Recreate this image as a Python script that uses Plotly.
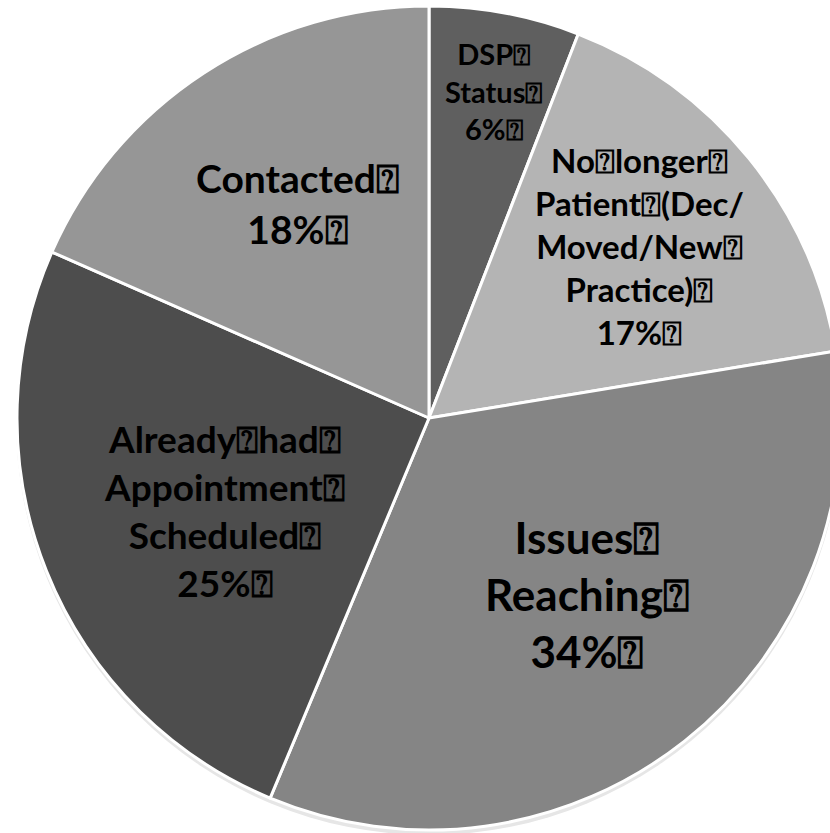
import math
import plotly.graph_objects as go

# ---- data ----
labels = ["DSP⍰<br>Status⍰", "No⍰longer⍰<br>Patient⍰(Dec/<br>Moved/New⍰<br>Practice)⍰",
          "Issues⍰<br>Reaching⍰", "Already⍰had⍰<br>Appointment⍰<br>Scheduled⍰", "Contacted⍰"]
values = [5.9, 16.5, 33.9, 25.3, 18.4]
pct_labels = [6, 17, 34, 25, 18]

# ---- style ----
colors = ["#5f5f5f", "#b4b4b4", "#858585", "#4d4d4d", "#969696"]
font_sizes = [29, 33, 44, 37, 39]
radial_frac = [0.81, 0.66, 0.575, 0.546, 0.61]
angle_shift = [0.6, -0.3, -3.5, -2.6, 1.7]

W, H = 858, 833
top_px, bot_px = 6, 830
R = (bot_px - top_px) / 2
cx, cy = W / 2, top_px + R

fig = go.Figure(go.Pie(
    labels=labels, values=values, sort=False, direction="clockwise", rotation=0,
    marker=dict(colors=colors, line=dict(color="white", width=3)),
    textinfo="none", hoverinfo="label+percent", showlegend=False,
    domain=dict(x=[0, 1], y=[(H - bot_px) / H, 1 - top_px / H]),
))

total = sum(values)
cum = 0
annotations = []
for i, v in enumerate(values):
    mid = (cum + v / 2) / total * 360 + angle_shift[i]
    cum += v
    r = R * radial_frac[i]
    x = cx + r * math.sin(math.radians(mid))
    y = cy - r * math.cos(math.radians(mid))
    annotations.append(dict(
        x=x / W, y=1 - y / H, xref="paper", yref="paper", showarrow=False,
        text=f"<b>{labels[i]}<br>{pct_labels[i]}%⍰</b>", align="center",
        xanchor="center", yanchor="middle",
        font=dict(family="Lato, 'DejaVu Sans', sans-serif", size=font_sizes[i], color="black"),
    ))

shapes = [dict(type="circle", xref="paper", yref="paper", layer="below",
               x0=(cx - R - 1) / W, x1=(cx + R + 1) / W,
               y0=1 - (cy + R + 5) / H, y1=1 - (cy - R + 1) / H,
               fillcolor="#e6e6e6", line=dict(width=0))]

fig.update_layout(
    width=W, height=H, autosize=False,
    margin=dict(l=0, r=0, t=0, b=0),
    paper_bgcolor="white", plot_bgcolor="white",
    annotations=annotations, shapes=shapes,
)

fig.write_html("out.html", post_script="document.body.style.overflow='hidden';document.body.style.margin='0';")
